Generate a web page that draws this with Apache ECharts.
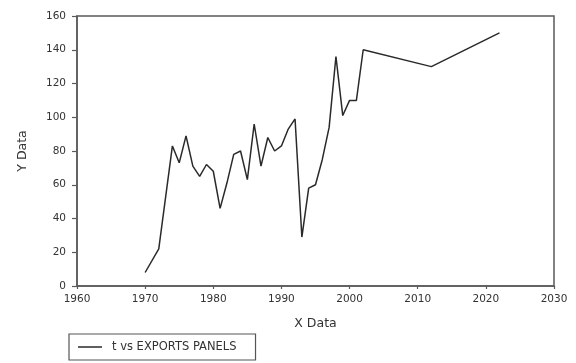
<!DOCTYPE html>
<html>
<head>
<meta charset="utf-8">
<script src="https://cdn.jsdelivr.net/npm/echarts@6/dist/echarts.min.js"></script>
<style>
  html, body { margin: 0; padding: 0; background: #fff; }
  #chart { width: 576px; height: 363px; }
</style>
</head>
<body>
<div id="chart"></div>
<script>
// Year of each observation
const years = [1970, 1972, 1974, 1975, 1976, 1977, 1978, 1979, 1980, 1981,
  1982, 1983, 1984, 1985, 1986, 1987, 1988, 1989, 1990, 1991,
  1992, 1993, 1994, 1995, 1996, 1997, 1998, 1999, 2000, 2001,
  2002, 2012, 2022];
// Export panels per year
const exportsPanels = [8, 22, 83, 73, 89, 71, 65, 72, 68, 46,
  61, 78, 80, 63, 96, 71, 88, 80, 83, 93,
  99, 29, 58, 60, 75, 94, 136, 101, 110, 110,
  140, 130, 150];
const seriesName = 't vs EXPORTS PANELS';

const points = years.map((y, i) => [y, exportsPanels[i]]);

const font = 'DejaVu Sans, Verdana, sans-serif';
const axisColor = '#5a5a5a';
const labelStyle = { color: '#333', fontFamily: font, fontSize: 10.5 };

const chart = echarts.init(document.getElementById('chart'), null, { renderer: 'canvas' });
chart.setOption({
  animation: false,
  backgroundColor: '#fff',
  grid: {
    left: 77, right: 22, top: 16, bottom: 77,
    show: true, borderColor: axisColor, borderWidth: 1.5, backgroundColor: 'transparent'
  },
  xAxis: {
    type: 'value', min: 1960, max: 2030, interval: 10,
    name: 'X Data', nameLocation: 'middle', nameGap: 31,
    nameTextStyle: { color: '#333', fontFamily: font, fontSize: 12.5 },
    axisLine: { show: true, onZero: false, lineStyle: { color: axisColor, width: 1.5 } },
    axisTick: { show: true, inside: false, length: 3, lineStyle: { color: axisColor, width: 1.2 } },
    axisLabel: Object.assign({ margin: 8, formatter: v => String(v) }, labelStyle),
    splitLine: { show: false }
  },
  yAxis: {
    type: 'value', min: 0, max: 160, interval: 20,
    name: 'Y Data', nameLocation: 'middle', nameGap: 48, nameRotate: 90,
    nameTextStyle: { color: '#333', fontFamily: font, fontSize: 12.5 },
    axisLine: { show: true, lineStyle: { color: axisColor, width: 1.5 } },
    axisTick: { show: true, inside: false, length: 5, lineStyle: { color: axisColor, width: 1.2 } },
    axisLabel: Object.assign({ margin: 11 }, labelStyle),
    splitLine: { show: false }
  },
  legend: {
    left: 69, top: 334,
    orient: 'horizontal',
    padding: [7, 19, 7, 9],
    borderColor: '#555', borderWidth: 1.2,
    itemWidth: 24, itemHeight: 1.5, itemGap: 10,
    icon: 'rect',
    textStyle: { color: '#333', fontFamily: font, fontSize: 11.5, padding: [0, 0, 0, 5] },
    data: [seriesName]
  },
  series: [{
    name: seriesName,
    type: 'line',
    data: points,
    symbol: 'none',
    lineStyle: { color: '#2a2a2a', width: 1.5 },
    itemStyle: { color: '#2a2a2a' }
  }]
});
</script>
</body>
</html>
